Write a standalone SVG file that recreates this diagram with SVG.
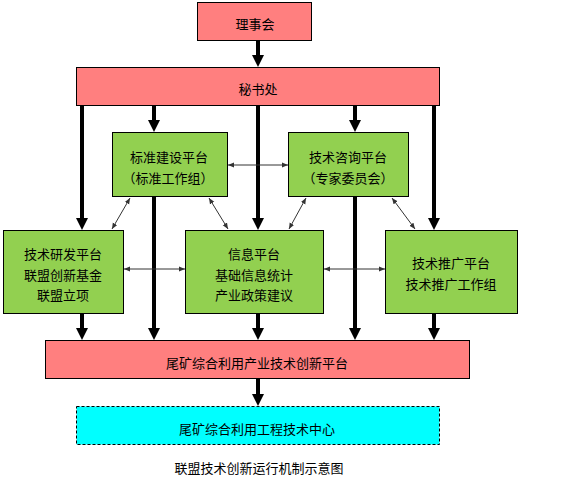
<svg xmlns="http://www.w3.org/2000/svg" width="561" height="479" viewBox="0 0 561 479">
<style>
text{font-family:"Noto Sans CJK SC","Liberation Sans",sans-serif;font-size:13px;fill:#000;text-anchor:middle;dominant-baseline:central}
.pink{fill:#FF7F7F;stroke:#000;stroke-width:1}
.green{fill:#92D050;stroke:#000;stroke-width:1}
.cyan{fill:#00FFFF;stroke:#000;stroke-width:1;stroke-dasharray:3,2}
.thick{stroke:#000;stroke-width:4;fill:none;marker-end:url(#big)}
.thin{stroke:#333;stroke-width:1;fill:none;marker-start:url(#small);marker-end:url(#small)}
</style>
<defs>
<marker id="big" viewBox="0 0 12 12" markerWidth="12" markerHeight="12" markerUnits="userSpaceOnUse" refX="2" refY="6" orient="auto">
<path d="M0,0 L12,6 L0,12 z" fill="#000"/>
</marker>
<marker id="small" viewBox="0 0 6 6" markerWidth="6" markerHeight="6" markerUnits="userSpaceOnUse" refX="6" refY="3" orient="auto-start-reverse">
<path d="M0,0.5 L6,3 L0,5.5 z" fill="#333"/>
</marker>
</defs>
<rect width="561" height="479" fill="#fff"/>
<g id="connectors">
<line class="thick" x1="258" y1="41" x2="258" y2="57"/>
<line class="thick" x1="82" y1="106" x2="82" y2="220"/>
<line class="thick" x1="154" y1="106" x2="154" y2="122"/>
<line class="thick" x1="258" y1="106" x2="258" y2="220"/>
<line class="thick" x1="355" y1="106" x2="355" y2="122"/>
<line class="thick" x1="434" y1="106" x2="434" y2="220"/>
<line class="thick" x1="82" y1="314" x2="82" y2="330"/>
<line class="thick" x1="154" y1="197" x2="154" y2="330"/>
<line class="thick" x1="258" y1="314" x2="258" y2="330"/>
<line class="thick" x1="355" y1="197" x2="355" y2="330"/>
<line class="thick" x1="434" y1="314" x2="434" y2="330"/>
<line class="thick" x1="258" y1="379" x2="258" y2="396"/>
<line class="thin" x1="228" y1="165" x2="288" y2="165"/>
<line class="thin" x1="124" y1="269" x2="185" y2="269"/>
<line class="thin" x1="324" y1="269" x2="385" y2="269"/>
<line class="thin" x1="130" y1="198" x2="112" y2="229"/>
<line class="thin" x1="209" y1="198" x2="228" y2="229"/>
<line class="thin" x1="306" y1="198" x2="289" y2="229"/>
<line class="thin" x1="392" y1="198" x2="415" y2="229"/>
</g>
<g id="lishihui"><rect class="pink" x="197.5" y="2.5" width="114" height="38"/><text x="255" y="23">理事会</text></g>
<g id="mishuchu"><rect class="pink" x="76.5" y="67.5" width="363" height="38"/><text x="258" y="88">秘书处</text></g>
<g id="biaozhun"><rect class="green" x="112.5" y="132.5" width="115" height="64"/><text x="169" y="156">标准建设平台</text><text x="168" y="177">（标准工作组）</text></g>
<g id="zixun"><rect class="green" x="288.5" y="132.5" width="120" height="64"/><text x="348" y="156">技术咨询平台</text><text x="348" y="177">（专家委员会）</text></g>
<g id="yanfa"><rect class="green" x="3.5" y="230.5" width="120" height="83"/><text x="63" y="253">技术研发平台</text><text x="63" y="274">联盟创新基金</text><text x="63" y="294">联盟立项</text></g>
<g id="xinxi"><rect class="green" x="185.5" y="230.5" width="138" height="83"/><text x="254" y="253">信息平台</text><text x="254" y="274">基础信息统计</text><text x="254" y="294">产业政策建议</text></g>
<g id="tuiguang"><rect class="green" x="385.5" y="230.5" width="132" height="83"/><text x="451" y="262">技术推广平台</text><text x="451" y="283">技术推广工作组</text></g>
<g id="chuangxin"><rect class="pink" x="45.5" y="340.5" width="424" height="38"/><text x="257" y="362">尾矿综合利用产业技术创新平台</text></g>
<g id="zhongxin"><rect class="cyan" x="76.5" y="406.5" width="363" height="38"/><text x="257" y="428">尾矿综合利用工程技术中心</text></g>
<text x="259" y="467">联盟技术创新运行机制示意图</text>
</svg>
